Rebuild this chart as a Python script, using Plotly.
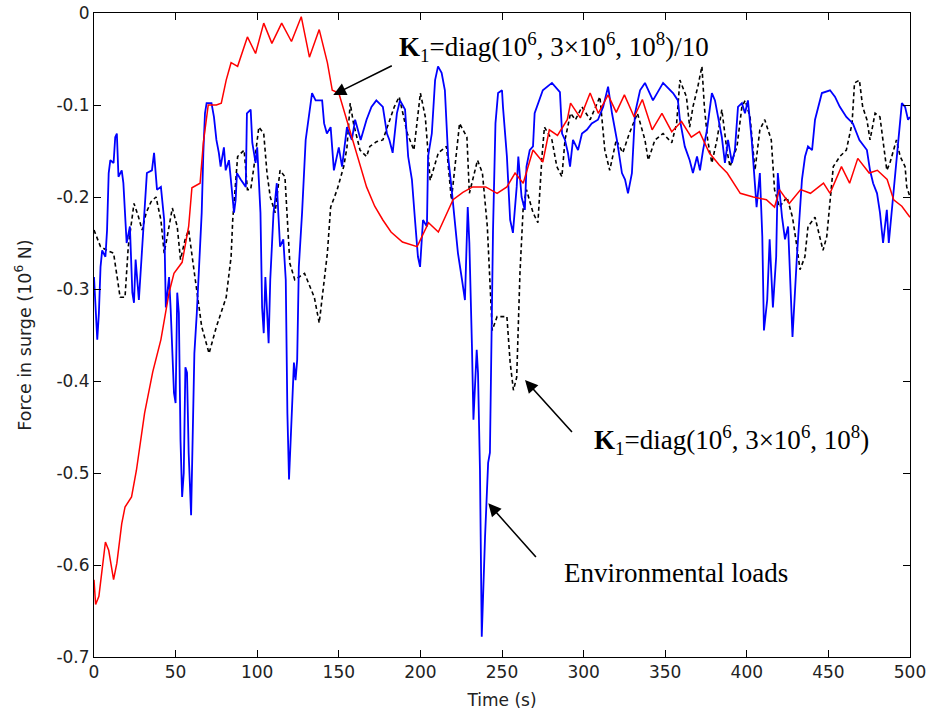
import plotly.graph_objects as go

# ---------------- data ----------------
env_t = [0, 1, 2, 3, 4, 5, 7, 8, 9, 10, 12, 13, 14, 15, 17, 18, 20, 22, 23.5, 24.5, 25.5, 27.5, 29.5, 30.6,
         32.4, 35.5, 36.8, 38.6, 41, 43, 44, 46, 47, 49, 50, 51, 52, 53, 54, 55, 56, 57, 58, 59.5, 60.5,
         61.5, 63, 64, 65, 66, 67, 68, 69, 72, 73.5, 75, 76.5, 77.6, 79.6, 80.7, 82.7, 83.7, 85.8, 86.8,
         87.6, 89.9, 93, 93.7, 96, 97, 99, 100, 102, 103, 104, 105, 106, 107, 108, 110, 111, 112, 114, 116,
         117.5, 118.5, 119.5, 120.5, 122.5, 123.5, 124.5, 125.5, 127.5, 129.7, 131.7, 133.6, 135.8, 139.8,
         141, 142.7, 145, 147, 150, 152, 155, 158, 160, 163.4, 167, 170, 173, 177, 179.5, 181, 183, 185.6,
         187.5, 190.6, 192.5, 194.8, 196.7, 198.5, 199.8, 201.6, 204, 204.7, 207, 209, 210.8, 213, 215, 217,
         219, 221, 223, 225.5, 227.3, 229, 230, 231.6, 232.5, 234.5, 235.3, 236.5, 237.6, 239.6, 240.6,
         241.5, 242.6, 243.6, 244.5, 246, 247.6, 250, 250.6, 253, 255, 256.7, 259, 260, 262, 264, 265, 267,
         269, 270, 273, 275, 280.6, 285.5, 286.8, 288.6, 290.4, 291.7, 293.5, 296.6, 299, 302, 305, 308.8,
         312, 315, 317.4, 320.4, 323.5, 325.4, 327.2, 329.6, 331.5, 334.6, 337.6, 342.5, 348.7, 354.8,
         357.8, 359, 362, 365, 367, 369.5, 371.3, 373.2, 375.6, 378.6, 380.5, 382.3, 384.7, 386.6, 388.5,
         390.9, 392.7, 394.6, 397, 398.9, 400.7, 403, 405, 406, 408, 409.5, 410.5, 412.5, 414, 416, 418,
         419, 421.6, 423.4, 425.3, 427, 428, 430.7, 432.6, 433.8, 435.7, 437.5, 440, 441.8, 446, 451, 454,
         457, 461, 465, 469, 473.6, 475.5, 477.4, 479.8, 481.6, 483.5, 485.8, 487, 489, 490.9, 492.7, 495,
         497, 498.8, 500]
env_f = [-0.287, -0.326, -0.355, -0.326, -0.276, -0.258, -0.265, -0.236, -0.174, -0.16, -0.163, -0.135,
         -0.131, -0.178, -0.171, -0.185, -0.25, -0.232, -0.304, -0.315, -0.268, -0.312, -0.258, -0.217,
         -0.174, -0.171, -0.152, -0.192, -0.189, -0.225, -0.32, -0.287, -0.323, -0.413, -0.424, -0.304,
         -0.326, -0.464, -0.526, -0.5, -0.385, -0.391, -0.478, -0.546, -0.464, -0.37, -0.326, -0.29, -0.268,
         -0.217, -0.152, -0.109, -0.098, -0.098, -0.113, -0.138, -0.152, -0.167, -0.146, -0.171, -0.16,
         -0.181, -0.217, -0.203, -0.174, -0.181, -0.189, -0.109, -0.105, -0.141, -0.163, -0.146, -0.217,
         -0.32, -0.348, -0.287, -0.32, -0.359, -0.29, -0.217, -0.203, -0.185, -0.254, -0.246, -0.29, -0.435,
         -0.507, -0.464, -0.38, -0.399, -0.377, -0.276, -0.217, -0.138, -0.109, -0.087, -0.095, -0.095,
         -0.12, -0.131, -0.124, -0.171, -0.146, -0.167, -0.124, -0.138, -0.116, -0.138, -0.116, -0.102,
         -0.095, -0.102, -0.131, -0.138, -0.152, -0.109, -0.095, -0.105, -0.156, -0.181, -0.225, -0.265,
         -0.276, -0.225, -0.232, -0.156, -0.131, -0.073, -0.058, -0.065, -0.084, -0.156, -0.189, -0.228,
         -0.261, -0.29, -0.312, -0.211, -0.25, -0.363, -0.442, -0.366, -0.391, -0.497, -0.678, -0.57,
         -0.522, -0.489, -0.478, -0.345, -0.236, -0.12, -0.087, -0.084, -0.102, -0.156, -0.225, -0.239,
         -0.189, -0.156, -0.2, -0.214, -0.167, -0.149, -0.145, -0.109, -0.095, -0.084, -0.076, -0.086,
         -0.131, -0.138, -0.152, -0.167, -0.138, -0.149, -0.131, -0.127, -0.12, -0.116, -0.102, -0.08,
         -0.109, -0.138, -0.174, -0.181, -0.196, -0.174, -0.109, -0.084, -0.076, -0.095, -0.076, -0.087,
         -0.095, -0.116, -0.145, -0.16, -0.174, -0.156, -0.171, -0.149, -0.127, -0.087, -0.095, -0.113,
         -0.135, -0.163, -0.138, -0.163, -0.149, -0.102, -0.098, -0.109, -0.095, -0.138, -0.181, -0.211,
         -0.174, -0.243, -0.345, -0.312, -0.246, -0.32, -0.265, -0.174, -0.222, -0.246, -0.232, -0.312,
         -0.352, -0.265, -0.211, -0.181, -0.156, -0.145, -0.149, -0.116, -0.087, -0.084, -0.091, -0.102,
         -0.113, -0.12, -0.138, -0.149, -0.171, -0.185, -0.196, -0.217, -0.25, -0.214, -0.25, -0.211,
         -0.174, -0.145, -0.098, -0.102, -0.116, -0.113]

k1_t = [0, 4, 8, 12, 14, 16, 19, 21, 24.5, 27, 29.5, 32, 35, 38, 41, 43, 46, 48, 51, 53, 56, 58, 61, 64,
        66, 70.5, 75, 78, 81, 84, 85, 88, 92, 94, 96, 98, 101, 104, 106, 108, 111, 114, 117, 120, 123, 129,
        135, 138, 141, 143, 145, 149, 153, 155, 157, 159, 163, 167, 169, 173, 177, 184, 187, 192, 196, 200,
        203, 206, 211, 216, 219, 224, 228.5, 230, 235, 238, 241, 244, 247, 250, 253, 255, 257, 259, 261,
        263, 265, 269, 272, 274.5, 276, 280.6, 283.6, 286.7, 288.6, 292, 295, 299, 304, 310, 313, 316, 320,
        324, 328, 333, 337.6, 339.6, 343.7, 348.7, 354, 357, 359, 363, 365, 367, 370, 372.5, 374, 376,
        378.6, 381.7, 384.7, 387.8, 389.7, 394, 397, 399, 402, 405, 408, 411, 415, 417, 420, 424.6, 428,
        430.7, 432.6, 435.6, 437.5, 441.8, 444.8, 446.7, 449, 451, 453, 457, 461, 464.5, 466, 469, 471,
        473.6, 475.5, 478.6, 481.6, 485.8, 487.7, 491.7, 494, 497, 498, 500]
k1_f = [-0.236, -0.254, -0.258, -0.261, -0.285, -0.309, -0.309, -0.254, -0.207, -0.22, -0.236, -0.217,
        -0.205, -0.2, -0.225, -0.261, -0.232, -0.212, -0.232, -0.268, -0.245, -0.236, -0.276, -0.312,
        -0.341, -0.37, -0.341, -0.325, -0.309, -0.265, -0.225, -0.156, -0.149, -0.192, -0.192, -0.167,
        -0.124, -0.131, -0.174, -0.2, -0.217, -0.171, -0.178, -0.272, -0.29, -0.283, -0.309, -0.337, -0.29,
        -0.261, -0.211, -0.192, -0.167, -0.146, -0.098, -0.12, -0.149, -0.156, -0.145, -0.14, -0.138,
        -0.102, -0.091, -0.131, -0.149, -0.087, -0.113, -0.182, -0.152, -0.145, -0.203, -0.12, -0.135,
        -0.196, -0.16, -0.174, -0.232, -0.345, -0.33, -0.33, -0.33, -0.38, -0.41, -0.396, -0.283, -0.211,
        -0.192, -0.217, -0.228, -0.156, -0.124, -0.138, -0.167, -0.178, -0.138, -0.109, -0.116, -0.102,
        -0.116, -0.091, -0.149, -0.171, -0.138, -0.152, -0.131, -0.109, -0.138, -0.16, -0.138, -0.131,
        -0.141, -0.12, -0.073, -0.091, -0.124, -0.102, -0.08, -0.058, -0.102, -0.138, -0.163, -0.138,
        -0.105, -0.149, -0.167, -0.145, -0.102, -0.095, -0.113, -0.171, -0.127, -0.116, -0.138, -0.192,
        -0.211, -0.2, -0.222, -0.254, -0.279, -0.265, -0.232, -0.222, -0.243, -0.258, -0.243, -0.203,
        -0.167, -0.156, -0.149, -0.12, -0.076, -0.073, -0.102, -0.116, -0.138, -0.109, -0.113, -0.171,
        -0.163, -0.138, -0.156, -0.167, -0.189, -0.2]

k10_t = [0, 1, 3, 5, 7, 9, 12, 14, 17, 19, 23, 26, 31, 36, 41, 46, 49, 54, 58, 60, 65, 67, 70, 75, 78, 81,
         84, 88, 94, 99, 104, 109, 115, 121, 127, 132, 138, 143, 146, 150, 157, 162, 167, 172, 177, 182,
         189, 198, 205, 211, 220, 226, 232, 240, 247, 253, 258, 263, 269, 275, 279, 284, 290, 292, 298, 304,
         309, 315, 320, 325, 331, 336, 342, 348, 354, 360, 366, 371, 377, 383, 388, 396, 404, 412, 417,
         420, 426, 433, 439, 447, 451, 458, 463, 468, 475, 480, 486, 490, 495, 500]
k10_f = [-0.616, -0.643, -0.634, -0.605, -0.575, -0.584, -0.616, -0.598, -0.555, -0.537, -0.526, -0.497,
         -0.435, -0.39, -0.355, -0.304, -0.283, -0.271, -0.232, -0.19, -0.185, -0.141, -0.1, -0.1, -0.098,
         -0.073, -0.054, -0.058, -0.026, -0.044, -0.011, -0.033, -0.011, -0.031, -0.004, -0.048, -0.018,
         -0.054, -0.084, -0.087, -0.13, -0.16, -0.189, -0.21, -0.225, -0.238, -0.249, -0.254, -0.228,
         -0.238, -0.203, -0.195, -0.189, -0.189, -0.196, -0.189, -0.174, -0.185, -0.149, -0.162, -0.127,
         -0.133, -0.116, -0.098, -0.114, -0.087, -0.109, -0.089, -0.108, -0.089, -0.113, -0.094, -0.127,
         -0.109, -0.129, -0.118, -0.135, -0.129, -0.152, -0.165, -0.174, -0.196, -0.2, -0.203, -0.211,
         -0.192, -0.207, -0.192, -0.196, -0.185, -0.196, -0.167, -0.185, -0.158, -0.174, -0.171, -0.181,
         -0.203, -0.21, -0.222]

x_ticks = [0, 50, 100, 150, 200, 250, 300, 350, 400, 450, 500]
y_ticks = [0, -0.1, -0.2, -0.3, -0.4, -0.5, -0.6, -0.7]
y_ticktext = ["0", "-0.1", "-0.2", "-0.3", "-0.4", "-0.5", "-0.6", "-0.7"]

# annotation anchors (data coordinates): (tip t, tip f, tail t, tail f, text t, text f, label)
labels = [
    (146.6, -0.089, 183.4, -0.0565, 185.6, -0.037,
     "<b>K</b><sub>1</sub>=diag(10<sup>6</sup>, 3×10<sup>6</sup>, 10<sup>8</sup>)/10"),
    (264.1, -0.399, 293.7, -0.457, 305.1, -0.464,
     "<b>K</b><sub>1</sub>=diag(10<sup>6</sup>, 3×10<sup>6</sup>, 10<sup>8</sup>)"),
    (241.6, -0.533, 271.6, -0.593, 286.7, -0.609, "Environmental loads"),
]

# ---------------- figure ----------------
fig = go.Figure()
fig.add_trace(go.Scatter(x=k1_t, y=k1_f, mode="lines", name="K1",
                         line=dict(color="black", width=1.6, dash="4px,3px")))
fig.add_trace(go.Scatter(x=env_t, y=env_f, mode="lines", name="Environmental loads",
                         line=dict(color="#0000ff", width=1.8)))
fig.add_trace(go.Scatter(x=k10_t, y=k10_f, mode="lines", name="K1/10",
                         line=dict(color="#ff0000", width=1.5)))

annotations = []
for tip_t, tip_f, tail_t, tail_f, txt_t, txt_f, label in labels:
    annotations.append(dict(x=tip_t, y=tip_f, ax=tail_t, ay=tail_f, xref="x", yref="y",
                            axref="x", ayref="y", text="", showarrow=True,
                            arrowhead=2, arrowsize=1.6, arrowwidth=1.6, arrowcolor="black"))
    annotations.append(dict(x=txt_t, y=txt_f, xref="x", yref="y", text=label, showarrow=False,
                            xanchor="left", yanchor="middle",
                            font=dict(family="Liberation Serif", size=27, color="black")))

axis_common = dict(showgrid=False, zeroline=False, showline=True, linecolor="black", linewidth=1,
                   mirror="ticks", ticks="inside", ticklen=7, tickcolor="black", tickwidth=1,
                   automargin=False,
                   tickfont=dict(family="DejaVu Sans", size=17, color="#222"))

fig.update_layout(
    width=928, height=719,
    margin=dict(l=94, r=18, t=13, b=62),
    plot_bgcolor="white", paper_bgcolor="white",
    showlegend=False,
    annotations=annotations,
    xaxis=dict(range=[0, 500], tickvals=x_ticks,
               title=dict(text="Time (s)", font=dict(family="DejaVu Sans", size=17, color="#222"),
                          standoff=12),
               **axis_common),
    yaxis=dict(range=[-0.7, 0], tickvals=y_ticks, ticktext=y_ticktext,
               title=dict(text="Force in surge (10<sup>6</sup> N)",
                          font=dict(family="DejaVu Sans", size=17.5, color="#222"), standoff=20),
               **axis_common),
)

fig.write_html("out.html")
